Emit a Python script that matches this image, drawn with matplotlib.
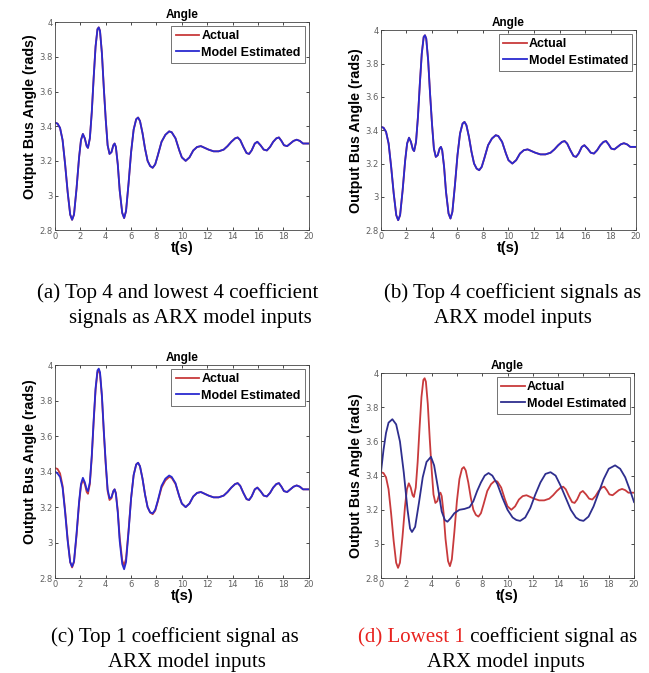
import matplotlib
matplotlib.use("Agg")
import matplotlib.pyplot as plt

# time base shared by the actual angle and the close model fits (a)-(c)
t = [0.0, 0.2, 0.4, 0.6, 0.8, 1.0, 1.2, 1.35, 1.5, 1.7, 1.9, 2.05, 2.2, 2.35, 2.5, 2.6,
     2.75, 2.9, 3.05, 3.2, 3.35, 3.45, 3.55, 3.7, 3.85, 4.0, 4.15, 4.3, 4.45, 4.6, 4.7,
     4.8, 4.95, 5.1, 5.3, 5.45, 5.6, 5.8, 6.0, 6.2, 6.4, 6.55, 6.7, 6.9, 7.1, 7.3, 7.5,
     7.7, 7.9, 8.1, 8.4, 8.7, 9.0, 9.2, 9.5, 9.8, 10.0, 10.3, 10.6, 10.9, 11.2, 11.5,
     11.8, 12.1, 12.5, 12.9, 13.3, 13.6, 13.9, 14.2, 14.4, 14.6, 14.85, 15.1, 15.3, 15.5,
     15.75, 15.95, 16.2, 16.45, 16.7, 16.95, 17.2, 17.45, 17.65, 17.85, 18.05, 18.3,
     18.55, 18.8, 19.05, 19.3, 19.55, 19.8, 20.0]

actual = [3.42, 3.415, 3.39, 3.32, 3.18, 3.02, 2.89, 2.86, 2.89, 3.04, 3.22, 3.32, 3.355,
          3.33, 3.285, 3.275, 3.33, 3.48, 3.68, 3.86, 3.96, 3.97, 3.95, 3.82, 3.62, 3.44,
          3.29, 3.24, 3.25, 3.29, 3.30, 3.28, 3.18, 3.03, 2.90, 2.87, 2.91, 3.07, 3.25,
          3.38, 3.44, 3.45, 3.43, 3.36, 3.27, 3.20, 3.17, 3.16, 3.18, 3.23, 3.31, 3.35,
          3.37, 3.365, 3.33, 3.26, 3.22, 3.20, 3.22, 3.26, 3.28, 3.285, 3.275, 3.265,
          3.255, 3.255, 3.265, 3.285, 3.31, 3.33, 3.335, 3.32, 3.28, 3.245, 3.24, 3.26,
          3.30, 3.31, 3.29, 3.265, 3.26, 3.28, 3.31, 3.33, 3.335, 3.315, 3.29, 3.285,
          3.30, 3.315, 3.322, 3.315, 3.30, 3.30, 3.30]

model_ab = list(actual)

model_c = [3.40, 3.39, 3.37, 3.31, 3.17, 3.01, 2.89, 2.865, 2.895, 3.05, 3.23, 3.33, 3.365,
           3.34, 3.30, 3.29, 3.34, 3.49, 3.69, 3.87, 3.97, 3.98, 3.96, 3.83, 3.63, 3.45,
           3.30, 3.25, 3.255, 3.29, 3.30, 3.275, 3.17, 3.01, 2.88, 2.85, 2.89, 3.06, 3.25,
           3.38, 3.44, 3.45, 3.43, 3.36, 3.27, 3.20, 3.17, 3.165, 3.185, 3.235, 3.32, 3.36,
           3.378, 3.37, 3.335, 3.26, 3.22, 3.20, 3.22, 3.26, 3.28, 3.285, 3.275, 3.265,
           3.255, 3.255, 3.265, 3.285, 3.31, 3.33, 3.335, 3.32, 3.28, 3.245, 3.24, 3.26,
           3.30, 3.31, 3.29, 3.265, 3.26, 3.28, 3.31, 3.33, 3.335, 3.315, 3.29, 3.285,
           3.30, 3.315, 3.322, 3.315, 3.30, 3.30, 3.30]

# lowest-1 coefficient model drifts away from the actual angle
t_d = [0.0, 0.2, 0.4, 0.6, 0.9, 1.2, 1.5, 1.8, 2.1, 2.3, 2.45, 2.7, 3.0, 3.3, 3.6, 3.95,
       4.2, 4.5, 4.8, 5.05, 5.25, 5.5, 5.8, 6.2, 6.6, 7.0, 7.3, 7.6, 7.9, 8.2, 8.5, 8.8,
       9.2, 9.6, 10.0, 10.4, 10.7, 11.0, 11.4, 11.8, 12.2, 12.6, 13.0, 13.4, 13.8, 14.2,
       14.6, 15.0, 15.4, 15.7, 16.0, 16.4, 16.8, 17.2, 17.6, 18.0, 18.5, 18.9, 19.3, 19.7,
       20.0]
model_d = [3.42, 3.55, 3.65, 3.71, 3.73, 3.70, 3.60, 3.42, 3.20, 3.09, 3.07, 3.10, 3.24,
           3.39, 3.48, 3.51, 3.46, 3.33, 3.19, 3.14, 3.13, 3.15, 3.18, 3.20, 3.205, 3.215,
           3.25, 3.31, 3.36, 3.40, 3.415, 3.40, 3.35, 3.27, 3.20, 3.155, 3.14, 3.135,
           3.155, 3.21, 3.29, 3.36, 3.41, 3.42, 3.40, 3.34, 3.27, 3.20, 3.155, 3.14, 3.135,
           3.16, 3.22, 3.30, 3.38, 3.44, 3.46, 3.44, 3.39, 3.31, 3.245]

x_ticks = [0, 2, 4, 6, 8, 10, 12, 14, 16, 18, 20]
y_ticks = [2.8, 3.0, 3.2, 3.4, 3.6, 3.8, 4.0]
y_tick_labels = ["2.8", "3", "3.2", "3.4", "3.6", "3.8", "4"]

RED = "#c83a3c"
BLUE = "#2a2ad0"
NAVY = "#2e2e8e"
SANS = "Liberation Sans"
SERIF = "Liberation Serif"
CAP_SIZE = 15


def draw_panel(fig, rect, est_t, est_y, est_color, ylabel_y=0.5):
    ax = fig.add_axes(rect)
    ax.plot(t, actual, color=RED, lw=1.3, label="Actual")
    ax.plot(est_t, est_y, color=est_color, lw=1.3, label="Model Estimated")
    ax.set_xlim(0, 20)
    ax.set_ylim(2.8, 4.0)
    ax.set_xticks(x_ticks)
    ax.set_yticks(y_ticks)
    ax.set_yticklabels(y_tick_labels)
    ax.tick_params(direction="in", top=True, right=True, length=2.5, width=0.5,
                   labelsize=6, labelcolor="#606060", pad=1.5)
    for sp in ax.spines.values():
        sp.set_linewidth(0.6)
        sp.set_color("#444444")
    ax.set_title("Angle", fontsize=8.5, fontweight="bold", family=SANS, pad=3)
    ax.set_xlabel("t(s)", fontsize=10.5, fontweight="bold", family=SANS, labelpad=0)
    ax.set_ylabel("Output Bus Angle (rads)", fontsize=10.3, fontweight="bold", family=SANS)
    ax.yaxis.set_label_coords(-0.071, ylabel_y)
    leg = ax.legend(loc="upper right", prop={"family": SANS, "weight": "bold", "size": 9},
                    frameon=True, fancybox=False, handlelength=1.9, handletextpad=0.15,
                    borderpad=0.35, labelspacing=0.35, borderaxespad=0.3)
    leg.get_frame().set_edgecolor("#333333")
    leg.get_frame().set_linewidth(0.6)
    return ax


def main() -> None:
    fig = plt.figure(figsize=(6.49, 6.73), dpi=100)

    axes = [
        draw_panel(fig, [0.0847, 0.658, 0.391, 0.309], t, model_ab, BLUE, 0.546),
        draw_panel(fig, [0.587, 0.658, 0.393, 0.297], t, model_ab, BLUE),
        draw_panel(fig, [0.0847, 0.141, 0.391, 0.3165], t, model_c, BLUE, 0.545),
        draw_panel(fig, [0.587, 0.141, 0.390, 0.3046], t_d, model_d, NAVY),
    ]

    cap = dict(fontsize=CAP_SIZE, family=SERIF, ha="center", va="baseline")
    fig.text(178 / 649, 1 - 298 / 673, "(a) Top 4 and lowest 4 coefficient", **cap)
    fig.text(190 / 649, 1 - 323 / 673, "signals as ARX model inputs", **cap)
    fig.text(513 / 649, 1 - 298 / 673, "(b) Top 4 coefficient signals as", **cap)
    fig.text(513 / 649, 1 - 323 / 673, "ARX model inputs", **cap)
    fig.text(175 / 649, 1 - 642 / 673, "(c) Top 1 coefficient signal as", **cap)
    fig.text(187 / 649, 1 - 667 / 673, "ARX model inputs", **cap)

    # (d) caption with red lead-in
    t1 = fig.text(358 / 649, 1 - 642 / 673, "(d) Lowest 1", fontsize=CAP_SIZE, family=SERIF,
                  color="#e8231f", ha="left", va="baseline")
    axes[0].annotate(" coefficient signal as", xy=(1, 0), xycoords=t1,
                     fontsize=CAP_SIZE, family=SERIF, ha="left", va="bottom",
                     annotation_clip=False)
    fig.text(506 / 649, 1 - 667 / 673, "ARX model inputs", **cap)

    fig.savefig("out.png", dpi=100)
    plt.close(fig)


if __name__ == "__main__":
    main()
